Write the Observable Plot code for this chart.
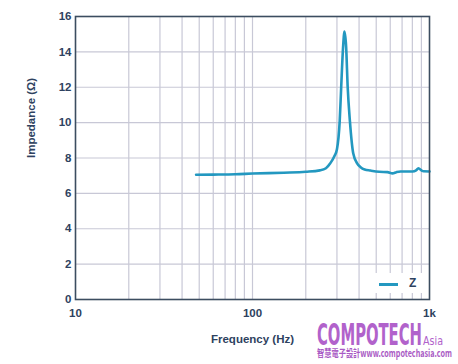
<!DOCTYPE html>
<html>
<head>
<meta charset="utf-8">
<script src="https://cdn.jsdelivr.net/npm/d3@7"></script>
<script src="https://cdn.jsdelivr.net/npm/@observablehq/plot@0.6"></script>
<style>
  html, body { margin: 0; padding: 0; background: #fff; }
  #wrap { position: relative; width: 458px; height: 364px; overflow: hidden; }
  #legend { position: absolute; left: 365px; top: 273px; width: 62px; height: 20px; background: #fff; }
  #legend .sw { position: absolute; left: 14px; top: 10px; width: 19px; height: 2.5px; background: #2398c0; }
  #legend .lb { position: absolute; left: 44px; top: 3px; font: bold 12px "Liberation Sans", Arial, sans-serif; color: #2e4260; }
  #wm { position: absolute; left: 0; top: 0; pointer-events: none; }
</style>
</head>
<body>
<div id="wrap"></div>
<script>
const freq = [48, 60, 80, 100, 150, 200, 240, 260, 275, 290, 300, 311, 317, 325, 331, 338, 345, 355, 371, 390, 408, 430, 464, 520, 579, 618, 650, 686, 750, 802, 840, 866, 900, 925, 1000];
const impedance = [7.05, 7.06, 7.08, 7.12, 7.17, 7.22, 7.3, 7.42, 7.7, 8.1, 8.5, 10.1, 12.0, 14.3, 15.15, 14.3, 12.0, 10.1, 8.25, 7.7, 7.48, 7.35, 7.29, 7.22, 7.2, 7.13, 7.2, 7.24, 7.24, 7.24, 7.3, 7.42, 7.3, 7.25, 7.24];
const xTicks = [10, 100, 1000];
const xTickLabels = ["10", "100", "1k"];
const yTicks = [0, 2, 4, 6, 8, 10, 12, 14, 16];
const xGrid = [20, 30, 40, 50, 60, 70, 80, 90, 100, 200, 300, 400, 500, 600, 700, 800, 900];
const yGrid = [2, 4, 6, 8, 10, 12, 14];
const xLabel = "Frequency (Hz)";
const yLabel = "Impedance (Ω)";

const data = freq.map((f, i) => ({f, z: impedance[i]}));
const textColor = "#2e4260";

const chart = Plot.plot({
  width: 458,
  height: 364,
  marginLeft: 75,
  marginRight: 29,
  marginTop: 16,
  marginBottom: 65,
  style: {fontFamily: "'Liberation Sans', Arial, sans-serif", fontSize: "11.5px", fontWeight: "bold", color: textColor, background: "#fff"},
  x: {type: "log", domain: [10, 1000]},
  y: {domain: [0, 16]},
  marks: [
    Plot.ruleX(xGrid, {stroke: "#c8c8d6", strokeWidth: 1.2}),
    Plot.ruleY(yGrid, {stroke: "#c8c8d6", strokeWidth: 1.2}),
    Plot.axisX(xTicks, {tickSize: 0, tickPadding: 9, tickFormat: d => xTickLabels[xTicks.indexOf(d)], label: null, fill: textColor}),
    Plot.axisY(yTicks, {tickSize: 0, tickPadding: 4, label: null, fill: textColor}),
    Plot.text([xLabel], {text: d => d, frameAnchor: "bottom", lineAnchor: "bottom", dy: 43, fill: textColor, fontSize: 11.5}),
    Plot.text([yLabel], {text: d => d, frameAnchor: "left", lineAnchor: "top", rotate: -90, dx: -49, fill: textColor, fontSize: 11.5}),
    Plot.line(data, {x: "f", y: "z", stroke: "#2398c0", strokeWidth: 2.6, curve: "monotone-x"}),
    Plot.frame({stroke: "#3c4d60", strokeWidth: 1.6})
  ]
});
const wrap = document.getElementById("wrap");
wrap.appendChild(chart);
wrap.insertAdjacentHTML("beforeend", `
  <div id="legend"><div class="sw"></div><div class="lb">Z</div></div>
  <svg id="wm" width="458" height="364" xmlns="http://www.w3.org/2000/svg">
    <text data-x="317" data-y="345" data-w="105" font-family="'DejaVu Sans Condensed','DejaVu Sans',sans-serif" font-weight="bold" font-size="31" fill="#b162cb">COMPOTECH</text>
    <text data-x="423" data-y="345" data-w="20" font-family="'DejaVu Sans Condensed','DejaVu Sans',sans-serif" font-size="12" fill="#b162cb">Asia</text>
    <text data-x="317" data-y="356.5" data-w="135" font-family="'Noto Sans CJK TC',sans-serif" font-size="10" font-weight="bold" fill="#a95ac4">智慧電子設計www.compotechasia.com</text>
  </svg>
`);
const svg = wrap.querySelector("svg");
svg.style.position = "absolute";
svg.style.left = "0";
svg.style.top = "0";
document.querySelectorAll("#wm text").forEach(t => {
  const w = t.getComputedTextLength();
  const sx = (+t.dataset.w) / w;
  t.setAttribute("transform", `translate(${t.dataset.x},${t.dataset.y}) scale(${sx},1)`);
});
</script>
</body>
</html>
